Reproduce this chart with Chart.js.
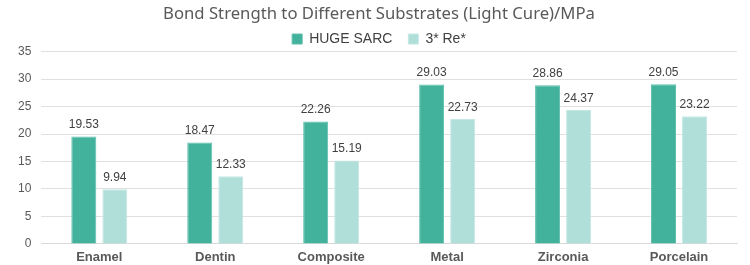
<!DOCTYPE html>
<html>
<head>
<meta charset="utf-8">
<script src="https://cdn.jsdelivr.net/npm/chart.js@4"></script>
<style>
  html, body { margin: 0; padding: 0; background: #fff; }
  #wrap { width: 750px; height: 265px; }
</style>
</head>
<body>
<div id="wrap"><canvas id="chart"></canvas></div>
<script>
const categories = ['Enamel', 'Dentin', 'Composite', 'Metal', 'Zirconia', 'Porcelain'];
const hugeSarc = [19.53, 18.47, 22.26, 29.03, 28.86, 29.05];
const reStar = [9.94, 12.33, 15.19, 22.73, 24.37, 23.22];
const seriesNames = ['HUGE SARC', '3* Re*'];
const yTicks = [0, 5, 10, 15, 20, 25, 30, 35];

// values over each bar
const barLabels = {
    id: 'barLabels',
    afterDatasetsDraw(chart) {
        const ctx = chart.ctx;
        ctx.save();
        ctx.font = '12px "Liberation Sans", Arial, sans-serif';
        ctx.fillStyle = '#404040';
        ctx.textAlign = 'center';
        ctx.textBaseline = 'alphabetic';
        chart.data.datasets.forEach((ds, i) => {
            chart.getDatasetMeta(i).data.forEach((bar, j) => {
                ctx.fillText(ds.data[j].toFixed(2), bar.x, bar.y - 8.5);
            });
        });
        ctx.restore();
    }
};

// legend keeps wide gaps between items but less space under it;
// title and legend sit a little right of the plot centre
const headerTweaks = {
    id: 'headerTweaks',
    beforeLayout(chart) {
        const legend = chart.legend;
        if (!legend || legend._tight) return;
        const fit = legend.fit;
        legend.fit = function () {
            fit.call(this);
            this.height -= 4.4;
        };
        legend._tight = true;
    },
    afterLayout(chart) {
        [chart.titleBlock, chart.legend].forEach(b => {
            if (!b) return;
            b.left += 6.5;
            b.right += 6.5;
        });
    }
};

new Chart(document.getElementById('chart'), {
    type: 'bar',
    data: {
        labels: categories,
        datasets: [
            { label: seriesNames[0], data: hugeSarc, backgroundColor: '#43b29d', borderColor: '#5cbfab', borderWidth: 1 },
            { label: seriesNames[1], data: reStar, backgroundColor: '#b0ded9', borderColor: '#c4e8e3', borderWidth: 1 }
        ]
    },
    options: {
        responsive: true,
        maintainAspectRatio: false,
        animation: false,
        categoryPercentage: 0.535,
        barPercentage: 0.806,
        layout: { padding: { left: 8, right: 13, top: 4, bottom: -6.5 } },
        plugins: {
            title: {
                display: true,
                text: 'Bond Strength to Different Substrates (Light Cure)/MPa',
                color: '#595959',
                font: { family: '"Noto Sans", sans-serif', size: 16.7, weight: 'normal' },
                padding: { top: 0, bottom: -8 }
            },
            legend: {
                labels: {
                    color: '#404040',
                    font: { family: '"Liberation Sans", Arial, sans-serif', size: 14 },
                    boxWidth: 10,
                    boxHeight: 10,
                    padding: 16
                }
            },
            tooltip: { enabled: false }
        },
        scales: {
            x: {
                grid: { display: false, drawTicks: false },
                border: { color: '#d9d9d9' },
                ticks: {
                    color: '#595959',
                    padding: 6,
                    font: { family: '"Liberation Sans", Arial, sans-serif', size: 13, weight: 'bold' }
                }
            },
            y: {
                min: 0,
                max: 35,
                afterBuildTicks: axis => { axis.ticks = yTicks.map(v => ({ value: v })); },
                grid: { color: '#e0e0e0', drawTicks: false },
                border: { display: false },
                ticks: {
                    color: '#595959',
                    padding: 10,
                    font: { family: '"Liberation Sans", Arial, sans-serif', size: 12 }
                }
            }
        }
    },
    plugins: [barLabels, headerTweaks]
});
</script>
</body>
</html>
